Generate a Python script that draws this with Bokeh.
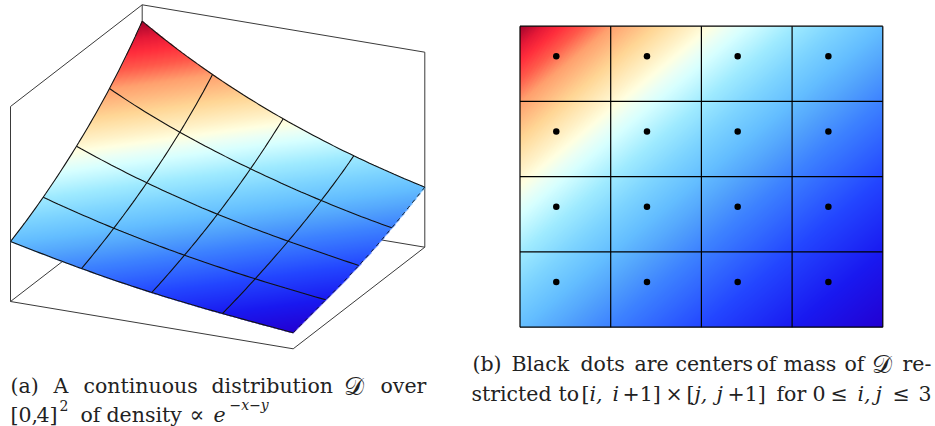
import numpy as np
from bokeh.plotting import figure
from bokeh.models import Range1d, LinearColorMapper
from bokeh.core.properties import value
from bokeh.embed import file_html
from bokeh.resources import INLINE

# colour map: level (0 = peak density, 8 = lowest) -> rgb
cmap_levels = [0.0, 0.25, 0.45, 0.7, 1.0, 1.5, 1.95, 2.1, 2.3, 2.5, 3.0, 3.5, 4.0, 4.5, 5.0, 6.0, 7.0, 8.0]
cmap_r = [165, 230, 255, 255, 255, 255, 255, 255, 235, 215, 160, 125, 100, 80, 60, 35, 25, 35]
cmap_g = [5, 25, 45, 90, 160, 215, 245, 255, 255, 255, 235, 212, 190, 160, 128, 70, 25, 0]
cmap_b = [45, 55, 60, 75, 110, 150, 205, 225, 245, 255, 255, 255, 255, 252, 255, 255, 240, 210]

# level at grid nodes (rows: j = 0..4, columns: i = 0..4)
node_level = [
    [0, 1, 2, 3, 4],
    [1, 2, 3, 4, 5],
    [2, 3, 4, 5, 6],
    [3, 4, 5, 6, 7],
    [4, 5, 6, 7, 8],
]

# panel (a): projected surface nodes
surf_x = [
    [141.7, 212.0, 282.7, 353.3, 424.3],
    [109.0, 179.3, 250.0, 320.7, 391.3],
    [76.0, 146.3, 217.0, 287.7, 358.3],
    [42.7, 113.3, 184.0, 254.7, 325.3],
    [10.0, 81.0, 151.3, 222.0, 292.7],
]
surf_y = [
    [20.7, 74.0, 118.3, 155.3, 186.7],
    [88.0, 131.7, 168.3, 200.0, 227.3],
    [145.7, 182.3, 213.7, 240.7, 265.0],
    [196.7, 227.7, 254.7, 278.3, 299.3],
    [241.0, 268.0, 292.0, 313.0, 332.3],
]
# bounding box edges of panel (a)
box_x0 = [141.7, 141.7, 424.3, 10.0, 10.0, 292.7, 141.7, 10.0, 141.7]
box_y0 = [4.3, 4.3, 51.7, 106.0, 301.0, 348.3, 199.5, 301.0, 4.3]
box_x1 = [10.0, 424.3, 424.3, 10.0, 292.7, 424.3, 424.3, 141.7, 141.7]
box_y1 = [106.0, 51.7, 246.7, 301.0, 348.3, 246.7, 246.7, 199.5, 199.5]

# panel (b): cell edges and centres of mass, in grid units
edges = [0, 1, 2, 3, 4]
centers = [0.40, 1.40, 2.40, 3.40]

# captions: (text, x, baseline y, size px, font style)
FS = 20.5
SS = 14
DS = 25
L1, L2, L3, L4 = 385.5, 414.3, 363.5, 393
SUP = 404.5
captions = [
    ("(a)", 10, L1, FS, "normal"),
    ("A", 53, L1, FS, "normal"),
    ("continuous", 83, L1, FS, "normal"),
    ("distribution", 211, L1, FS, "normal"),
    ("\U0001D49F", 343, L1, DS, "normal"),
    ("over", 380, L1, FS, "normal"),
    ("[0,", 10, L2, FS, "normal"),
    ("4]", 36, L2, FS, "normal"),
    ("2", 59, SUP, SS, "normal"),
    ("of", 80, L2, FS, "normal"),
    ("density", 106, L2, FS, "normal"),
    ("\u221D", 189, L2, 22, "normal"),
    ("e", 213, L2, FS, "italic"),
    ("\u2212x\u2212y", 229, SUP, SS, "italic"),
    ("(b)", 472, L3, FS, "normal"),
    ("Black", 511, L3, FS, "normal"),
    ("dots", 580, L3, FS, "normal"),
    ("are", 634, L3, FS, "normal"),
    ("centers", 675, L3, FS, "normal"),
    ("of", 756, L3, FS, "normal"),
    ("mass", 783, L3, FS, "normal"),
    ("of", 844, L3, FS, "normal"),
    ("\U0001D49F", 871, L3, DS, "normal"),
    ("re-", 902, L3, FS, "normal"),
    ("stricted", 471, L4, FS, "normal"),
    ("to", 558, L4, FS, "normal"),
    ("[", 581, L4, FS, "normal"),
    ("i,", 589, L4, FS, "italic"),
    ("i", 612, L4, FS, "italic"),
    ("+1]", 622, L4, FS, "normal"),
    ("\u00D7", 665, L4, FS, "normal"),
    ("[", 686, L4, FS, "normal"),
    ("j,", 694, L4, FS, "italic"),
    ("j", 716, L4, FS, "italic"),
    ("+1]", 727, L4, FS, "normal"),
    ("for", 776, L4, FS, "normal"),
    ("0", 812, L4, FS, "normal"),
    ("\u2264", 830, L4, FS, "normal"),
    ("i,", 857, L4, FS, "italic"),
    ("j", 875, L4, FS, "italic"),
    ("\u2264", 892, L4, FS, "normal"),
    ("3", 918, L4, FS, "normal"),
]

W, H = 935, 426
BX0, BX1, BY0, BY1 = 519.5, 882.3, 25.7, 326.7

lv = np.linspace(0, 8, 512)
rgb = np.stack([np.interp(lv, cmap_levels, c) for c in (cmap_r, cmap_g, cmap_b)], axis=1)
palette = ["#%02x%02x%02x" % tuple(int(round(v)) for v in c) for c in rgb]
mapper = LinearColorMapper(palette=palette, low=0, high=8, nan_color="#ffffff00")


def lagrange(t, nodes):
    nodes = np.asarray(nodes, float)
    B = np.ones((len(t), len(nodes)))
    for k, nk in enumerate(nodes):
        for m, nm in enumerate(nodes):
            if m != k:
                B[:, k] *= (t - nm) / (nk - nm)
    return B


p = figure(width=W, height=H, output_backend="svg", toolbar_location=None,
           x_range=Range1d(0, W), y_range=Range1d(H, 0),
           min_border=0, outline_line_color=None)
p.xaxis.visible = False
p.yaxis.visible = False
p.grid.visible = False

sx = (BX1 - BX0) / 4
sy = (BY1 - BY0) / 4
p.extra_x_ranges["cell_x"] = Range1d((0 - BX0) / sx, (W - BX0) / sx)
p.extra_y_ranges["cell_y"] = Range1d((H - BY0) / sy, (0 - BY0) / sy)

# panel (a)
p.segment(box_x0, box_y0, box_x1, box_y1, line_color="#3a3a3a", line_width=1.0)

nodes_x = np.array(surf_x)
nodes_y = np.array(surf_y)
levels = np.array(node_level, float)

# rasterise the surface colours
R = 2
x0, y0, dw, dh = 8, 16, 420, 320
grid = np.full((dh * R, dw * R), np.nan)
t = np.linspace(0, 4, 2401)
B = lagrange(t, edges)
DX = B @ nodes_x @ B.T
DY = B @ nodes_y @ B.T
DL = B @ levels @ B.T
ci = np.clip(((DX - x0) * R).astype(int), 0, dw * R - 1)
ri = np.clip(((DY - y0) * R).astype(int), 0, dh * R - 1)
grid[ri, ci] = DL
p.image(image=[grid], x=x0, y=y0, dw=dw, dh=dh, color_mapper=mapper)

SUB = 14
tl = np.linspace(0, 4, 4 * SUB + 1)
Bl = lagrange(tl, edges)
MX = Bl @ nodes_x @ Bl.T
MY = Bl @ nodes_y @ Bl.T
gx, gy = [], []
for k in range(5):
    idx = k * SUB
    gx.append(list(MX[idx, :])); gy.append(list(MY[idx, :]))
    if k < 4:
        gx.append(list(MX[:, idx])); gy.append(list(MY[:, idx]))
p.multi_line(gx, gy, line_color="#111111", line_width=1.1)
p.line(list(MX[:, -1]), list(MY[:, -1]), line_color="#111111", line_width=0.9, line_dash="4 4")

# panel (b)
NX, NY = int(BX1 - BX0) * 2, int(BY1 - BY0) * 2
bx = (np.arange(NX) + 0.5) / NX * 4
by = (np.arange(NY) + 0.5) / NY * 4
field = lagrange(by, edges) @ levels @ lagrange(bx, edges).T
p.image(image=[field], x=0, y=0, dw=4, dh=4, color_mapper=mapper,
        x_range_name="cell_x", y_range_name="cell_y")
p.multi_line([[e, e] for e in edges] + [[0, 4] for e in edges],
             [[0, 4] for e in edges] + [[e, e] for e in edges],
             line_color="black", line_width=1.2,
             x_range_name="cell_x", y_range_name="cell_y")
cx, cy = np.meshgrid(centers, centers)
p.scatter(cx.ravel(), cy.ravel(), size=6.5, fill_color="black", line_color="black", line_width=0,
          x_range_name="cell_x", y_range_name="cell_y")

# captions
for txt, x, y, size, style in captions:
    p.text([x], [y], text=value(txt), text_font=value("DejaVu Serif"), text_font_size=f"{size}px",
           text_font_style=style, text_color="#222222", text_baseline="alphabetic", text_align="left")

open("out.html", "w").write(file_html(p, INLINE))
